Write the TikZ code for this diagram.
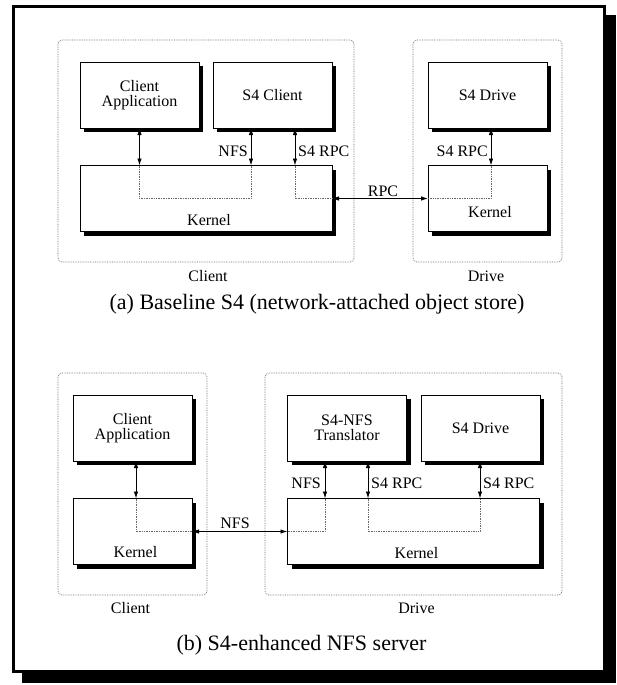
\documentclass[tikz,border=0pt]{standalone}
\usepackage{fontspec}
\setmainfont{Liberation Serif}
\usetikzlibrary{arrows.meta,shadows}
\tikzset{
  komp/.style={draw, line width=0.9pt, fill=white, minimum width=119pt, minimum height=66pt,
    inner sep=0pt, outer sep=0pt, align=center, anchor=north west,
    font=\fontsize{16pt}{14.5pt}\selectfont,
    general shadow={fill=black, shadow xshift=4pt, shadow yshift=-4pt}},
  wadah/.style={draw=black!60, densely dotted, line width=0.7pt, rounded corners=4pt},
  jalur/.style={draw=black!60, densely dotted, line width=0.7pt},
  panah/.style={{Latex[length=7pt,width=4.5pt]}-{Latex[length=7pt,width=4.5pt]}, line width=0.9pt},
  teks/.style={font=\fontsize{16pt}{16pt}\selectfont, inner sep=0pt},
  judul/.style={font=\fontsize{22pt}{22pt}\selectfont, inner sep=0pt, anchor=base},
}
\begin{document}
\begin{tikzpicture}[x=1pt, y=-1pt]
  \useasboundingbox (0,0) rectangle (616,685);
  % bingkai luar
  \draw[line width=3pt, fill=white, general shadow={fill=black, draw=black, line width=3pt, shadow xshift=10pt, shadow yshift=-10pt}] (13.5,6.5) rectangle (604.5,671.5);

  % (a) wadah
  \draw[wadah] (58,40) rectangle (354,262);
  \draw[wadah] (413,40) rectangle (562,262);
  % (a) komponen
  \node[komp] (appA) at (80,62) {Client\\Application};
  \node[komp] (s4cA) at (213,62) {S4 Client};
  \node[komp, minimum width=252pt] (kerA) at (80,165.5) {};
  \node[komp] (drvA) at (428,62) {S4 Drive};
  \node[komp] (kerDA) at (428,165.5) {};
  \node[teks, anchor=base] (kerAt) at (209,225.5) {Kernel};
  \node[teks, anchor=base] (kerDAt) at (490,217) {Kernel};
  % (a) panah dan jalur
  \coordinate (nfsA) at ([xshift=38pt]s4cA.south west);
  \coordinate (rpcA) at ([xshift=82pt]s4cA.south west);
  \coordinate (rpcDA) at ([xshift=63pt]drvA.south west);
  \draw[panah] (appA.south) -- (appA.south |- kerA.north);
  \draw[panah] (nfsA) -- (nfsA |- kerA.north);
  \draw[panah] (rpcA) -- (rpcA |- kerA.north);
  \draw[panah] (rpcDA) -- (rpcDA |- kerDA.north);
  \draw[panah] (kerA.east) -- (kerDA.west);
  \draw[jalur] (appA.south |- kerA.north) |- (nfsA |- kerA.center) -- (nfsA |- kerA.north);
  \draw[jalur] (rpcA |- kerA.north) |- (kerA.east);
  \draw[jalur] (kerDA.west) -| (rpcDA |- kerDA.north);
  \node[teks, anchor=base east] (lnfsA) at (248,156) {NFS};
  \node[teks, anchor=base west] (lrpcA) at (298,156) {S4 RPC};
  \node[teks, anchor=base east] (lrpcDA) at (488,156) {S4 RPC};
  \node[teks, anchor=base] (lnetA) at (383,196) {RPC};
  \node[teks, anchor=base] (cliA) at (208,281) {Client};
  \node[teks, anchor=base] (drvAt) at (486,281) {Drive};
  \node[judul] (capA) at (317,309) {(a) Baseline S4 (network-attached object store)};

  % (b) wadah
  \draw[wadah] (58,373) rectangle (207,595);
  \draw[wadah] (265,373) rectangle (562,595);
  % (b) komponen
  \node[komp] (appB) at (73,395) {Client\\Application};
  \node[komp] (kerB) at (73,498.5) {};
  \node[komp] (trnB) at (287.5,395) {S4-NFS\\Translator};
  \node[komp] (drvB) at (421,395) {S4 Drive};
  \node[komp, minimum width=252pt] (kerDB) at (287.5,498.5) {};
  \node[teks, anchor=base] (kerBt) at (135.5,557) {Kernel};
  \node[teks, anchor=base] (kerDBt) at (416.5,558) {Kernel};
  % (b) panah dan jalur
  \coordinate (appBx) at ([xshift=63pt]appB.south west);
  \coordinate (nfsB) at ([xshift=37.5pt]trnB.south west);
  \coordinate (rpcB) at ([xshift=80.5pt]trnB.south west);
  \coordinate (rpcDB) at ([xshift=59pt]drvB.south west);
  \draw[panah] (appBx) -- (appBx |- kerB.north);
  \draw[panah] (nfsB) -- (nfsB |- kerDB.north);
  \draw[panah] (rpcB) -- (rpcB |- kerDB.north);
  \draw[panah] (rpcDB) -- (rpcDB |- kerDB.north);
  \draw[panah] (kerB.east) -- (kerDB.west);
  \draw[jalur] (appBx |- kerB.north) |- (kerB.east);
  \draw[jalur] (kerDB.west) -| (nfsB |- kerDB.north);
  \draw[jalur] (rpcB |- kerDB.north) |- (rpcDB |- kerDB.center) -- (rpcDB |- kerDB.north);
  \node[teks, anchor=base] (lnetB) at (235,528.5) {NFS};
  \node[teks, anchor=base east] (lnfsB) at (321,488) {NFS};
  \node[teks, anchor=base west] (lrpcB) at (371,488) {S4 RPC};
  \node[teks, anchor=base west] (lrpcDB) at (483,488) {S4 RPC};
  \node[teks, anchor=base] (cliB) at (130.5,613.5) {Client};
  \node[teks, anchor=base] (drvBt) at (416.5,613.5) {Drive};
  \node[judul] (capB) at (301.5,650) {(b) S4-enhanced NFS server};
\end{tikzpicture}
\end{document}
